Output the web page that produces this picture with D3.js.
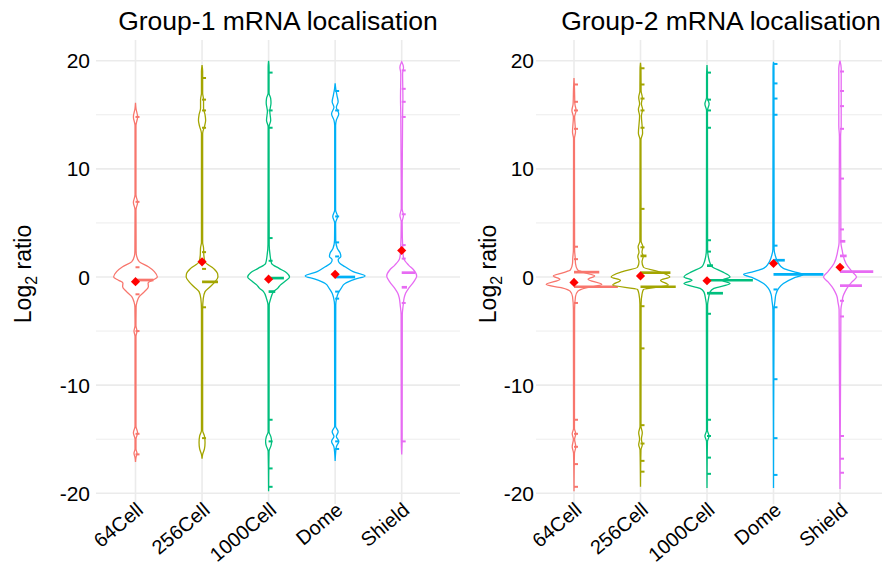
<!DOCTYPE html>
<html>
<head>
<meta charset="utf-8">
<script src="https://cdn.jsdelivr.net/npm/d3@7"></script>
<style>
  body { margin: 0; background: #fff; }
  svg text { font-family: "Liberation Sans", Arial, sans-serif; fill: #000; }
</style>
</head>
<body>
<div class="container"></div>
<script>
const WIDTH = 892;
const HEIGHT = 565;

const categories = ["64Cell", "256Cell", "1000Cell", "Dome", "Shield"];
const colours = ["#F8766D", "#A3A500", "#00BF7D", "#00B0F6", "#E76BF3"];
const yTicks = [-20, -10, 0, 10, 20];
const yMinorTicks = [-15, -5, 5, 15];

// violin outlines: [log2 ratio, relative density]
const g1Density = [
  [[16.1,0],[15.6,0.015],[14.8,0.07],[14.0,0.015],[7.6,0.015],[6.9,0.07],[6.2,0.015],[2.4,0.02],[1.9,0.04],[1.4,0.13],[0.95,0.43],[0.5,0.63],[0,0.73],[-0.3,0.57],[-0.55,0.42],[-0.9,0.43],[-1.35,0.3],[-1.8,0.13],[-2.3,0.05],[-2.8,0.02],[-4.5,0.015],[-5,0.05],[-5.5,0.015],[-13.8,0.015],[-14.4,0.07],[-15.0,0.015],[-15.9,0.015],[-16.3,0.05],[-16.7,0.015],[-17.1,0]],
  [[19.6,0],[19.0,0.02],[17,0.02],[16.4,0.05],[15.6,0.05],[15.0,0.10],[14.5,0.12],[13.9,0.08],[13.3,0.02],[3.2,0.02],[2.7,0.05],[2.0,0.06],[1.4,0.10],[0.8,0.38],[0.3,0.52],[0,0.53],[-0.45,0.43],[-0.9,0.27],[-1.35,0.1],[-2,0.04],[-3,0.02],[-14.2,0.02],[-14.7,0.08],[-15.3,0.1],[-15.9,0.08],[-16.4,0.02],[-16.8,0]],
  [[20,0],[19.4,0.015],[17,0.015],[16.5,0.07],[16.1,0.08],[15.3,0.04],[14.5,0.07],[13.9,0.015],[3.0,0.02],[2.0,0.05],[1.25,0.1],[0.8,0.35],[0.4,0.6],[0,0.7],[-0.4,0.55],[-0.75,0.39],[-1.05,0.3],[-1.35,0.17],[-2,0.07],[-2.6,0.02],[-14.3,0.015],[-14.8,0.08],[-15.2,0.1],[-15.6,0.08],[-16.1,0.015],[-19.8,0]],
  [[17.9,0],[17.4,0.02],[16.8,0.06],[16.2,0.1],[15.7,0.04],[15.1,0.12],[14.5,0.04],[14.0,0.015],[6.2,0.015],[5.6,0.08],[5.0,0.015],[3.4,0.02],[2.65,0.07],[2.2,0.17],[1.9,0.19],[1.6,0.1],[1.3,0.14],[0.95,0.33],[0.5,0.6],[0.1,1.0],[-0.2,0.67],[-0.6,0.33],[-1.05,0.2],[-1.5,0.1],[-1.95,0.05],[-2.6,0.02],[-13.8,0.015],[-14.3,0.1],[-14.75,0.04],[-15.2,0.12],[-15.7,0.04],[-16.3,0.015],[-17,0]],
  [[19.9,0],[19.4,0.06],[18.8,0.03],[16.5,0.04],[15,0.03],[6.3,0.015],[5.7,0.06],[5.1,0.015],[2.3,0.04],[1.7,0.07],[1.1,0.23],[0.65,0.4],[0.1,0.5],[-0.45,0.4],[-1.05,0.23],[-1.5,0.13],[-1.95,0.08],[-2.6,0.05],[-3.5,0.02],[-15,0.015],[-16.4,0]]
];
const g2Density = [
  [[18.4,0],[17.5,0.015],[16,0.03],[15.4,0.07],[14.8,0.02],[13.4,0.05],[12.8,0.015],[2.5,0.02],[1.8,0.04],[1.25,0.05],[0.65,0.12],[0.4,0.35],[0.1,0.69],[-0.2,0.47],[-0.7,0.93],[-1.0,0.4],[-1.3,0.13],[-1.8,0.05],[-3,0.02],[-14,0.015],[-14.5,0.06],[-15.0,0.02],[-15.7,0.06],[-16.3,0.015],[-19.8,0]],
  [[19.8,0],[19.2,0.015],[17.2,0.02],[16.6,0.06],[16.0,0.03],[15.5,0.07],[14.9,0.03],[13.3,0.07],[12.7,0.015],[3.3,0.02],[2.8,0.08],[2.3,0.05],[1.9,0.09],[1.4,0.05],[0.9,0.1],[0.5,0.6],[0,0.98],[-0.3,0.67],[-0.75,0.93],[-1.15,0.1],[-1.6,0.05],[-2.5,0.02],[-13.8,0.015],[-14.4,0.06],[-15.0,0.03],[-15.5,0.06],[-16,0.015],[-19.4,0]],
  [[19.6,0],[18.5,0.015],[16.6,0.015],[16,0.07],[15.4,0.015],[2.6,0.02],[1.8,0.05],[1.3,0.1],[0.95,0.17],[0.5,0.5],[0,0.77],[-0.3,0.5],[-0.6,0.77],[-1.05,0.23],[-1.4,0.1],[-2,0.05],[-2.6,0.02],[-14.2,0.015],[-14.7,0.07],[-15.2,0.015],[-19.5,0]],
  [[19.9,0],[19.4,0.015],[2.6,0.02],[1.8,0.08],[1.25,0.17],[0.8,0.33],[0.5,0.67],[0.25,1.0],[-0.1,0.67],[-0.6,0.33],[-1.05,0.17],[-1.6,0.08],[-2.2,0.05],[-3,0.02],[-19.5,0]],
  [[20,0],[19.3,0.04],[14,0.04],[13,0.02],[3.2,0.03],[2.5,0.07],[1.25,0.2],[0.5,0.4],[0,0.55],[-0.45,0.4],[-0.9,0.27],[-1.35,0.17],[-1.8,0.1],[-2.3,0.07],[-3,0.03],[-19.6,0]]
];

// single jittered genes
const g1Points = [
  [14.8, 6.95, 0.9, -1.6, -5, -14.5, -16.4],
  [18.4, 16.4, 15.4, 13.8, 2.3, 0.75, -2.8, -14.9],
  [18.9, 15.4, 13.8, 3.6, 1.5, -13.2, -15.2, -17.7, -19.4],
  [17.2, 15.4, 5.6, 3.2, 1.9, -1.35, -2, -15.2, -15.9],
  [19.1, 17.4, 16.2, 14.8, 5.8, 2.95, 1.7, -2.4, -15.2]
];
const g2Points = [
  [17.8, 16.2, 15.4, 13.7, 2.8, 1.65, -2.4, -13.2, -14.5, -15.7, -17.3, -19.4],
  [19.3, 17.8, 16.5, 15.4, 13.8, 6.3, 2.75, -2.7, -6.6, -13.7, -15.4, -17, -18],
  [18.9, 16.4, 15.4, 13.8, 3.4, 2.35, -3.4, -13.2, -14.7, -16.7, -18.2],
  [19.7, 17.9, 16.5, 15.0, 2.9, -1.15, -2.8, -9.45, -14.9, -18.3],
  [19, 17.2, 15.8, 13.7, 9.1, 4.4, -2.2, -3.65, -14.7, -16.8, -18.1]
];

// overlapping genes: [log2 ratio, jitter spread as share of category step]
const g1Clusters = [
  [[-0.28, 0.27]],
  [[-0.45, 0.24]],
  [[-0.1, 0.23], [-1.35, 0.1]],
  [[0, 0.3]],
  [[0.4, 0.2], [-0.95, 0.08]]
];
const g2Clusters = [
  [[0.45, 0.38], [-0.9, 0.66]],
  [[1.95, 0.09], [0.4, 0.45], [-0.9, 0.53]],
  [[1.05, 0.09], [-0.3, 0.69], [-1.5, 0.24]],
  [[1.55, 0.17], [0.25, 0.75]],
  [[3.3, 0.08], [1.95, 0.1], [0.5, 0.5], [-0.8, 0.33]]
];

const g1Means = [-0.43, 1.4, -0.2, 0.25, 2.45];
const g2Means = [-0.5, 0.1, -0.35, 1.25, 0.9];

const panels = [
  {title: "Group-1 mRNA localisation", density: g1Density, points: g1Points, clusters: g1Clusters, means: g1Means,
   xRange: [135.5, 401.7], gridLeft: 96, gridRight: 460, labelRight: 90, yTitleX: 31, titleX: 278},
  {title: "Group-2 mRNA localisation", density: g2Density, points: g2Points, clusters: g2Clusters, means: g2Means,
   xRange: [574, 840], gridLeft: 536, gridRight: 882, labelRight: 534, yTitleX: 496, titleX: 721}
];

const PANEL_TOP = 40;
const PANEL_BOTTOM = 504;

const yScale = d3.scaleLinear().domain([-20, 20]).range([493.3, 60.7]);

const svg = d3.select(".container").append("svg")
  .attr("width", WIDTH)
  .attr("height", HEIGHT);

const drawPanel = function(p) {
  const x = d3.scalePoint().domain(categories).range(p.xRange);
  const step = x.step();
  const w = d3.scaleLinear().domain([0, 1]).range([0, 0.45 * step]);
  const g = svg.append("g");

  // grid
  g.selectAll(".minor").data(yMinorTicks).enter().append("line")
    .attr("x1", p.gridLeft).attr("x2", p.gridRight)
    .attr("y1", d => yScale(d)).attr("y2", d => yScale(d))
    .attr("stroke", "#EBEBEB").attr("stroke-width", 0.9);
  g.selectAll(".major").data(yTicks).enter().append("line")
    .attr("x1", p.gridLeft).attr("x2", p.gridRight)
    .attr("y1", d => yScale(d)).attr("y2", d => yScale(d))
    .attr("stroke", "#EBEBEB").attr("stroke-width", 1.6);
  g.selectAll(".vgrid").data(categories).enter().append("line")
    .attr("x1", d => x(d)).attr("x2", d => x(d))
    .attr("y1", PANEL_TOP).attr("y2", PANEL_BOTTOM)
    .attr("stroke", "#EBEBEB").attr("stroke-width", 1.6);

  // violins
  categories.forEach(function(c, i) {
    const cx = x(c);
    const area = d3.area()
      .curve(d3.curveMonotoneY)
      .y(d => yScale(d[0]))
      .x0(d => cx - w(d[1]))
      .x1(d => cx + w(d[1]));
    g.append("path")
      .datum(p.density[i])
      .attr("d", area)
      .attr("fill", "#fff")
      .attr("stroke", colours[i])
      .attr("stroke-width", 1.3);

    g.append("g").selectAll("line").data(p.points[i]).enter().append("line")
      .attr("x1", cx).attr("x2", cx + 0.06 * step)
      .attr("y1", d => yScale(d)).attr("y2", d => yScale(d))
      .attr("stroke", colours[i]).attr("stroke-width", 2);

    g.append("g").selectAll("line").data(p.clusters[i]).enter().append("line")
      .attr("x1", cx).attr("x2", d => cx + d[1] * step)
      .attr("y1", d => yScale(d[0])).attr("y2", d => yScale(d[0]))
      .attr("stroke", colours[i]).attr("stroke-width", 2.7);
  });

  // means
  g.append("g").selectAll("path").data(p.means).enter().append("path")
    .attr("d", d3.symbol(d3.symbolSquare, 42))
    .attr("transform", (d, i) => "translate(" + x(categories[i]) + "," + yScale(d) + ") rotate(45)")
    .attr("fill", "#FF0000");

  // y axis labels
  g.selectAll(".ylab").data(yTicks).enter().append("text")
    .attr("x", p.labelRight)
    .attr("y", d => yScale(d))
    .attr("dy", "0.36em")
    .attr("text-anchor", "end")
    .attr("font-size", 21)
    .text(d => d);

  // x axis labels
  g.selectAll(".xlab").data(categories).enter().append("text")
    .attr("text-anchor", "end")
    .attr("font-size", 20)
    .attr("transform", d => "translate(" + (x(d) + 9) + "," + (PANEL_BOTTOM + 8) + ") rotate(-40)")
    .text(d => d);

  // title
  g.append("text")
    .attr("x", p.titleX)
    .attr("y", 30)
    .attr("text-anchor", "middle")
    .attr("font-size", 26.5)
    .text(p.title);

  // y title
  const yt = g.append("text")
    .attr("transform", "translate(" + p.yTitleX + "," + 274 + ") rotate(-90)")
    .attr("text-anchor", "middle")
    .attr("font-size", 23);
  yt.append("tspan").text("Log");
  yt.append("tspan").attr("font-size", 16).attr("dy", 6).text("2");
  yt.append("tspan").attr("dy", -6).text(" ratio");
};

panels.forEach(drawPanel);
</script>
</body>
</html>
